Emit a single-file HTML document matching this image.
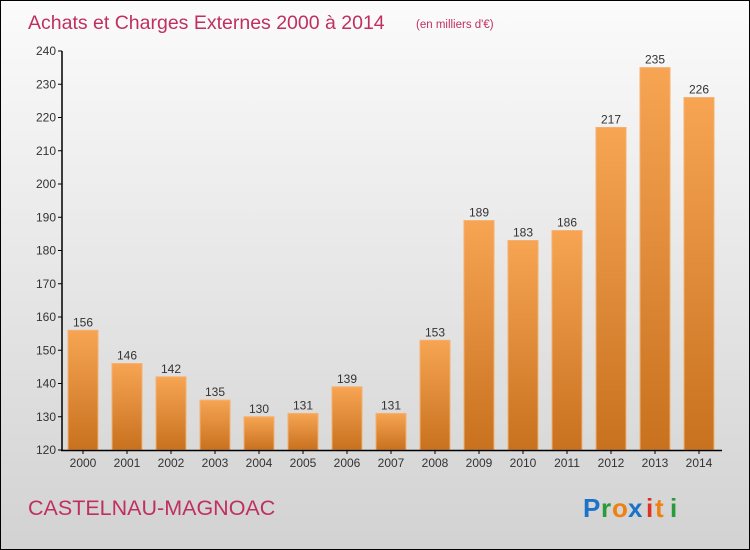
<!DOCTYPE html>
<html><head><meta charset="utf-8"><style>
body{margin:0}
#c{position:relative;width:748px;height:548px;border:1px solid #000;background:linear-gradient(#fbfbfb,#d2d2d2);overflow:hidden;font-family:"Liberation Sans",sans-serif}
</style></head><body>
<div id="c">
<svg id="s" width="748" height="548" style="position:absolute;left:0;top:0">
<defs><linearGradient id="g" x1="0" y1="0" x2="0" y2="1"><stop offset="0" stop-color="#f7a553"/><stop offset="1" stop-color="#c8711f"/></linearGradient></defs>
<text x="27" y="28" font-size="19.5" fill="#c0305f">Achats et Charges Externes 2000 à 2014</text>
<text x="415" y="27" font-size="11.5" fill="#c0305f">(en milliers d'€)</text>
<text x="27" y="514" font-size="21.5" fill="#c0305f">CASTELNAU-MAGNOAC</text>
<g font-size="26" font-weight="bold"><text x="582" y="516" fill="#1a73c8">P</text><text x="600" y="516" fill="#2a9a3a">r</text><text x="611" y="516" fill="#f08010">o</text><text x="627" y="516" fill="#1a73c8">x</text><text x="645" y="516" fill="#e03020">i</text><text x="654" y="516" fill="#f08010">t</text><text x="669" y="516" fill="#2a9a3a">i</text></g>
<g id="plot"></g>
</svg>
</div>
<script>
const categories=["2000","2001","2002","2003","2004","2005","2006","2007","2008","2009","2010","2011","2012","2013","2014"];
const values=[156,146,142,135,130,131,139,131,153,189,183,186,217,235,226];
const yTicks=[120,130,140,150,160,170,180,190,200,210,220,230,240];
const NS="http://www.w3.org/2000/svg";
const g=document.getElementById('plot');
const x0=60,band=44,yMin=120,yMax=240,yTop=50,yBot=449;
const y=v=>yBot-(v-yMin)/(yMax-yMin)*(yBot-yTop);
const xc=i=>x0+band*i+band/2;
function mk(t,a){const e=document.createElementNS(NS,t);for(const k in a)e.setAttribute(k,a[k]);g.appendChild(e);return e;}
yTicks.forEach(t=>{
 const l=mk('line',{x1:57,x2:61,y1:y(t),y2:y(t),stroke:'#000'});
 
 
 const tx=mk('text',{x:55,y:y(t)+4,'text-anchor':'end','font-size':12,fill:'#333'});tx.textContent=t;
 
 
});
values.forEach((v,i)=>{
 const r=mk('rect',{x:xc(i)-15,y:y(v),width:30,height:yBot-y(v),fill:'url(#g)',stroke:'#f5b070','stroke-width':1});
 
 
 const t=mk('text',{x:xc(i),y:y(v)-4,'text-anchor':'middle','font-size':12,fill:'#333'});t.textContent=v;
 
 
 const c=mk('text',{x:xc(i),y:466,'text-anchor':'middle','font-size':12,fill:'#333'});c.textContent=categories[i];
 
 
 const tk=mk('line',{x1:xc(i),x2:xc(i),y1:yBot,y2:yBot+4,stroke:'#000'});
 
 
});
const ya=mk('line',{x1:61,x2:61,y1:yTop,y2:yBot+1,stroke:'#000','stroke-width':1.5});


const xa=mk('line',{x1:60,x2:721,y1:yBot+0.5,y2:yBot+0.5,stroke:'#000','stroke-width':1.5});


</script>
</body></html>
